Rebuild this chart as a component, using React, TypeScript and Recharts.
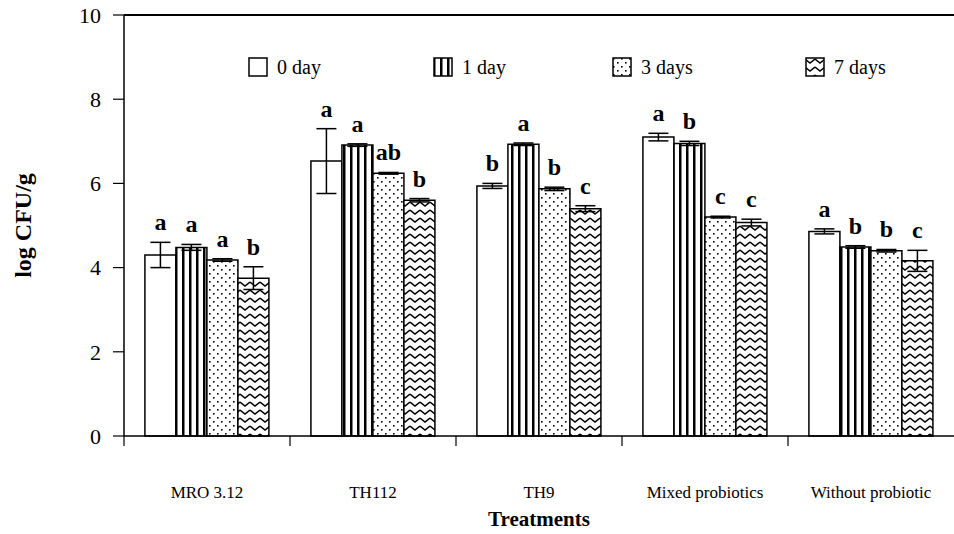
import React from 'react';
import { BarChart, Bar, XAxis, YAxis, ErrorBar, LabelList, ReferenceLine, Label } from 'recharts';

const categories = ['MRO 3.12', 'TH112', 'TH9', 'Mixed probiotics', 'Without probiotic'];

const day0 = [4.3, 6.53, 5.94, 7.1, 4.86];
const day0Err = [0.3, 0.77, 0.06, 0.09, 0.06];
const day0Letters = ['a', 'a', 'b', 'a', 'a'];

const day1 = [4.48, 6.91, 6.93, 6.95, 4.49];
const day1Err = [0.07, 0.03, 0.03, 0.05, 0.03];
const day1Letters = ['a', 'a', 'a', 'b', 'b'];

const day3 = [4.18, 6.24, 5.87, 5.2, 4.4];
const day3Err = [0.03, 0.02, 0.04, 0.02, 0.03];
const day3Letters = ['a', 'ab', 'b', 'c', 'b'];

const day7 = [3.75, 5.6, 5.4, 5.07, 4.16];
const day7Err = [0.27, 0.04, 0.07, 0.08, 0.25];
const day7Letters = ['b', 'b', 'c', 'c', 'c'];

const yTicks = [0, 2, 4, 6, 8, 10];

const seriesNames = ['0 day', '1 day', '3 days', '7 days'];
const fills = ['#ffffff', 'url(#stripes)', 'url(#dots)', 'url(#zigzag)'];

const data = categories.map((name, i) => ({
  name,
  d0: day0[i], e0: day0Err[i], l0: day0Letters[i],
  d1: day1[i], e1: day1Err[i], l1: day1Letters[i],
  d3: day3[i], e3: day3Err[i], l3: day3Letters[i],
  d7: day7[i], e7: day7Err[i], l7: day7Letters[i],
}));

const serif = '"Liberation Serif", "Times New Roman", serif';

// letter sits just above the error bar cap
const letterContent = (values: number[], errs: number[]) => (props: any) => {
  const { x, y, width, height, value, index } = props;
  const pxPerUnit = height / values[index];
  const top = y - errs[index] * pxPerUnit;
  return (
    <text x={x + width / 2} y={top - 12} textAnchor="middle" fontFamily={serif} fontWeight="bold" fontSize={24} fill="#000">
      {value}
    </text>
  );
};

const XTick = (props: any) => {
  const { x, y, payload } = props;
  return (
    <g>
      <line x1={x - 83} x2={x - 83} y1={y} y2={y + 10} stroke="#000" strokeWidth={1.2} />
      <text x={x} y={y + 62} textAnchor="middle" fontFamily={serif} fontSize={17} fill="#000">
        {payload.value}
      </text>
    </g>
  );
};

const Swatch: React.FC<{ fill: string }> = ({ fill }) => (
  <svg width={20} height={20} style={{ display: 'block' }}>
    <rect x={1} y={1} width={18} height={18} fill={fill} stroke="#000" strokeWidth={1.5} />
  </svg>
);

const legendLeft = [248, 433, 612, 805];

export default function App() {
  return (
    <div style={{ position: 'fixed', left: 0, top: 0, width: 954, height: 534, background: '#fff' }}>
      <BarChart width={954} height={534} data={data} margin={{ top: 15, right: 0, left: 0, bottom: 0 }}
        barCategoryGap="12.6%" barGap={0}>
        <defs>
          <pattern id="stripes" width="7" height="10" patternUnits="userSpaceOnUse">
            <rect width="7" height="10" fill="#fff" />
            <rect x="0" width="2.5" height="10" fill="#000" />
          </pattern>
          <pattern id="dots" width="8" height="8" patternUnits="userSpaceOnUse">
            <rect width="8" height="8" fill="#fff" />
            <rect x="1" y="1" width="1.6" height="1.6" fill="#000" />
            <rect x="5" y="5" width="1.6" height="1.6" fill="#000" />
          </pattern>
          <pattern id="zigzag" width="10" height="8" patternUnits="userSpaceOnUse">
            <rect width="10" height="8" fill="#fff" />
            <path d="M0,2 L5,6 L10,2" stroke="#000" strokeWidth="1.6" fill="none" />
          </pattern>
        </defs>
        <XAxis dataKey="name" height={98} tickLine={false} tickSize={0} tickMargin={0}
          axisLine={{ stroke: '#000', strokeWidth: 1.5 }} tick={<XTick />} interval={0}>
          <Label value="Treatments" position="insideBottom" offset={8}
            style={{ fontFamily: serif, fontWeight: 'bold', fontSize: 21, fill: '#000' }} />
        </XAxis>
        <YAxis width={124} domain={[0, 10]} ticks={yTicks} tickSize={11} tickMargin={12}
          axisLine={{ stroke: '#000', strokeWidth: 1.5 }} tickLine={{ stroke: '#000', strokeWidth: 1.2 }}
          tick={{ fontFamily: serif, fontSize: 22, fill: '#000' }}>
          <Label value="log CFU/g" angle={-90} position="insideLeft" offset={22}
            style={{ fontFamily: serif, fontWeight: 'bold', fontSize: 24, fill: '#000', textAnchor: 'middle' }} />
        </YAxis>
        <ReferenceLine y={10} stroke="#000" strokeWidth={2} />
        <Bar dataKey="d0" fill={fills[0]} stroke="#000" strokeWidth={1.5} isAnimationActive={false}>
          <ErrorBar dataKey="e0" width={10} stroke="#000" strokeWidth={1.5} />
          <LabelList dataKey="l0" content={letterContent(day0, day0Err)} />
        </Bar>
        <Bar dataKey="d1" fill={fills[1]} stroke="#000" strokeWidth={1.5} isAnimationActive={false}>
          <ErrorBar dataKey="e1" width={10} stroke="#000" strokeWidth={1.5} />
          <LabelList dataKey="l1" content={letterContent(day1, day1Err)} />
        </Bar>
        <Bar dataKey="d3" fill={fills[2]} stroke="#000" strokeWidth={1.5} isAnimationActive={false}>
          <ErrorBar dataKey="e3" width={10} stroke="#000" strokeWidth={1.5} />
          <LabelList dataKey="l3" content={letterContent(day3, day3Err)} />
        </Bar>
        <Bar dataKey="d7" fill={fills[3]} stroke="#000" strokeWidth={1.5} isAnimationActive={false}>
          <ErrorBar dataKey="e7" width={10} stroke="#000" strokeWidth={1.5} />
          <LabelList dataKey="l7" content={letterContent(day7, day7Err)} />
        </Bar>
      </BarChart>
      {seriesNames.map((s, i) => (
        <div key={s} style={{ position: 'absolute', left: legendLeft[i], top: 57, display: 'flex', alignItems: 'center', gap: 9,
          fontFamily: serif, fontSize: 20, color: '#000', lineHeight: '20px' }}>
          <Swatch fill={fills[i]} />
          <span>{s}</span>
        </div>
      ))}
    </div>
  );
}
